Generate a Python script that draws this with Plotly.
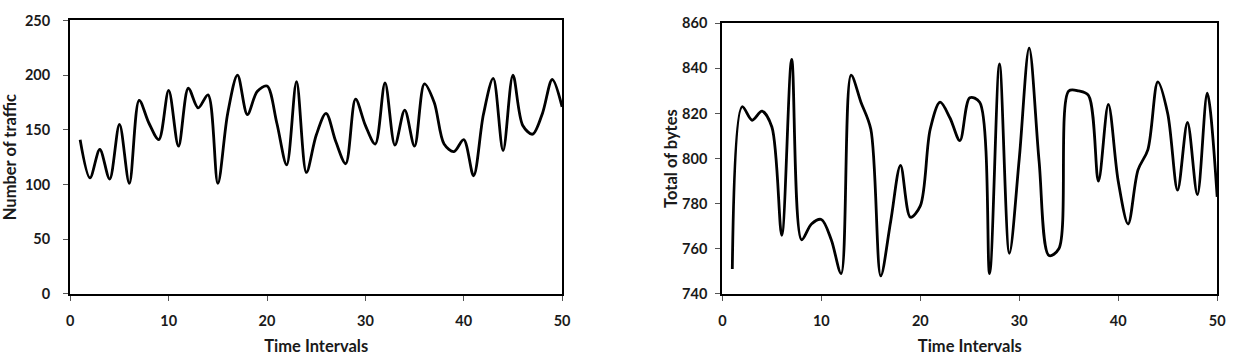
import plotly.graph_objects as go

time_intervals = list(range(1, 51))

traffic_counts = [141, 106, 132, 105, 155, 101, 177, 156, 141, 186,
                  135, 188, 170, 182, 101, 165, 200, 164, 185, 190,
                  156, 118, 194, 111, 145, 165, 139, 119, 178, 154,
                  137, 193, 136, 168, 135, 192, 175, 137, 130, 141,
                  108, 164, 197, 131, 200, 154, 146, 165, 196, 171]

total_bytes = [751, 823, 817, 821, 814, 766, 844, 764, 771, 773,
               764, 749, 837, 825, 813, 748, 772, 797, 774, 779,
               813, 825, 818, 808, 827, 825, 749, 842, 758, 800,
               849, 799, 757, 760, 830, 830, 828, 790, 824, 790,
               771, 795, 804, 834, 820, 786, 816, 784, 829, 783]

x_ticks = [0, 10, 20, 30, 40, 50]
left_y_ticks = [0, 50, 100, 150, 200, 250]
right_y_ticks = [740, 760, 780, 800, 820, 840, 860]

W, H = 1243, 360
fig = go.Figure()

line_style = dict(color="black", width=2.8, shape="spline", smoothing=0.9)

fig.add_trace(go.Scatter(x=time_intervals, y=traffic_counts, mode="lines",
                         line=line_style, xaxis="x", yaxis="y", showlegend=False))
fig.add_trace(go.Scatter(x=time_intervals, y=total_bytes, mode="lines",
                         line=line_style, xaxis="x2", yaxis="y2", showlegend=False))

tick_font = dict(family="Lato", size=14.5, color="#1a1a1a", weight="bold")
title_font = dict(family="Lato", size=16.5, color="#1a1a1a", weight="bold")

axis_common = dict(showgrid=False, zeroline=False, showline=True, linecolor="black",
                   linewidth=2.4, mirror=True, ticks="outside", ticklen=5,
                   tickcolor="#555", tickwidth=1, tickfont=tick_font)

fig.update_layout(
    width=W, height=H,
    margin=dict(l=0, r=0, t=0, b=0),
    paper_bgcolor="white", plot_bgcolor="white",
    xaxis=dict(domain=[67 / W, 564 / W], range=[0, 50], tickvals=x_ticks,
               anchor="y", ticklabelstandoff=8,
               title=dict(text="Time Intervals", font=title_font, standoff=12),
               **axis_common),
    yaxis=dict(domain=[1 - 299 / H, 1 - 12 / H], range=[0, 250], tickvals=left_y_ticks,
               anchor="x", ticklabelstandoff=10,
               title=dict(text="Number of traffic", font=title_font, standoff=4),
               **axis_common),
    xaxis2=dict(domain=[726 / W, 1226 / W], range=[0, 50], tickvals=x_ticks,
                anchor="y2", ticklabelstandoff=8,
                title=dict(text="Time Intervals", font=title_font, standoff=12),
                **axis_common),
    yaxis2=dict(domain=[1 - 299 / H, 1 - 15 / H], range=[740, 860], tickvals=right_y_ticks,
                anchor="x2", ticklabelstandoff=5,
                title=dict(text="Total of bytes", font=title_font, standoff=0),
                **axis_common),
)

fig.write_html("out.html")
